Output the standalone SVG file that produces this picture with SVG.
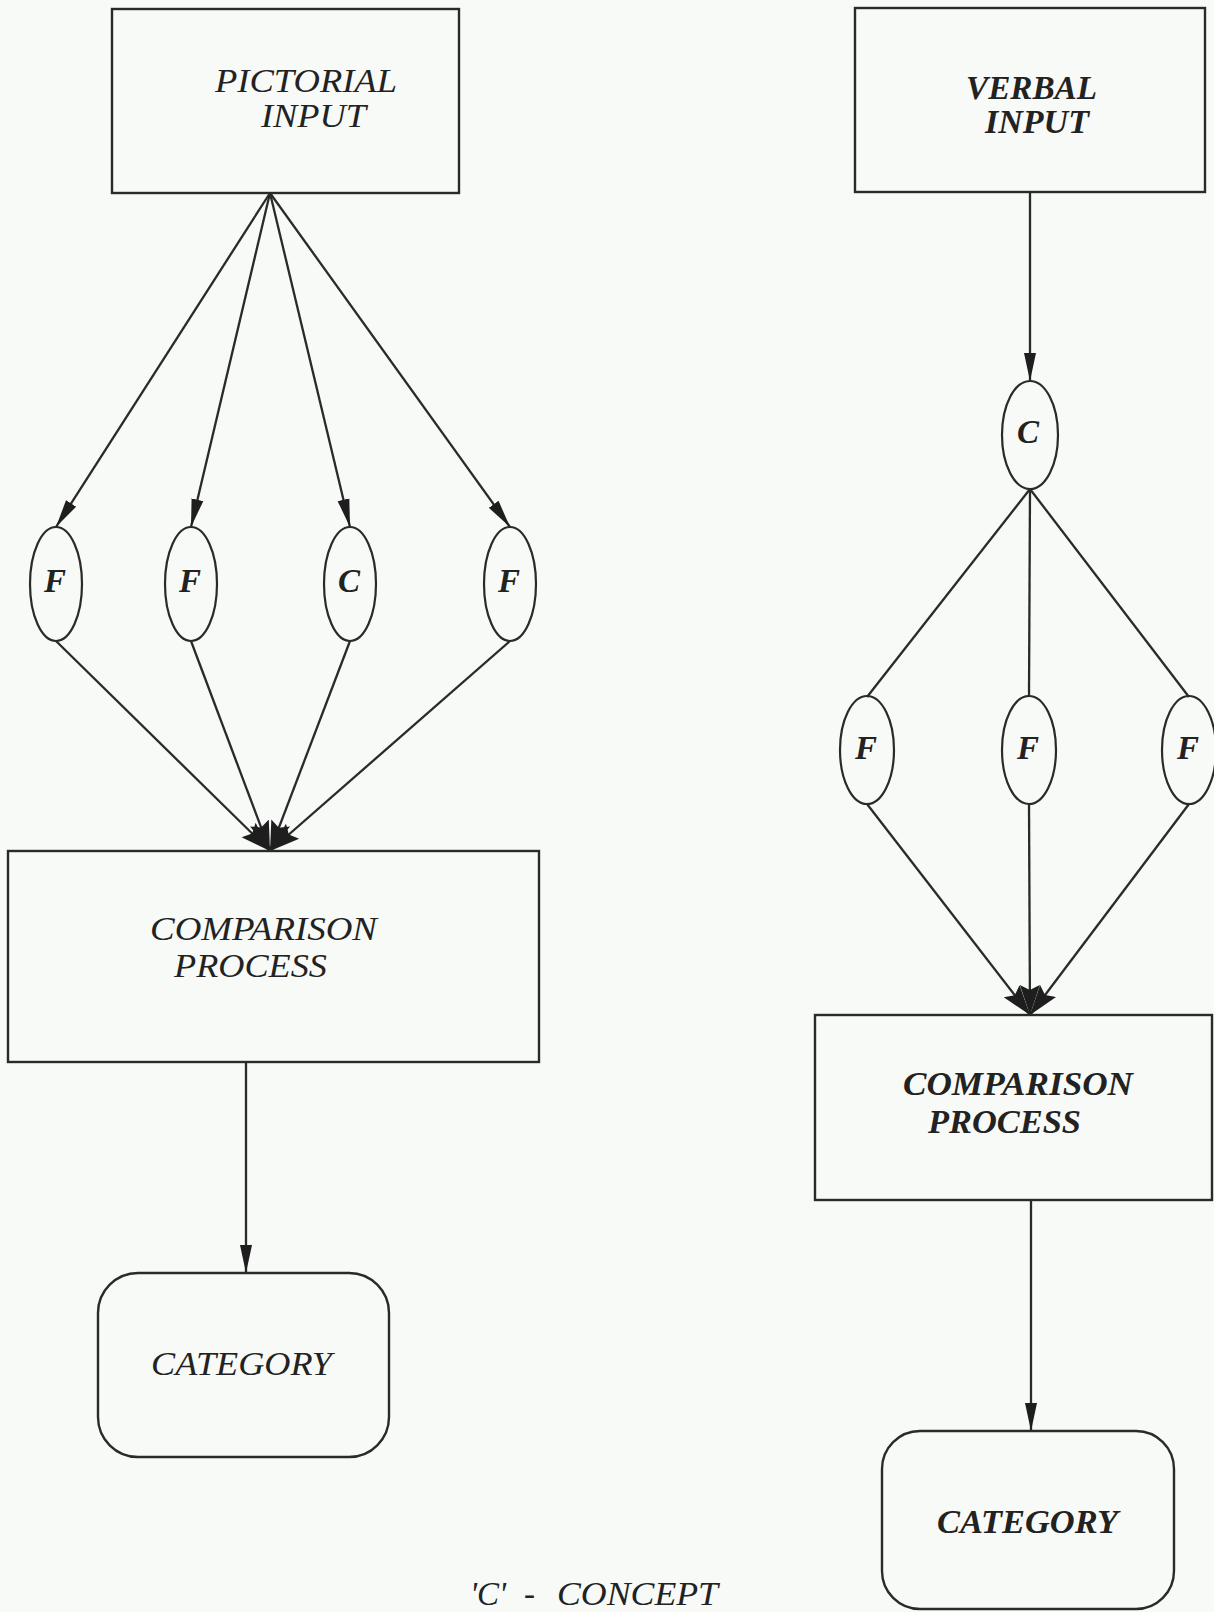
<svg xmlns="http://www.w3.org/2000/svg" width="1214" height="1612" viewBox="0 0 1214 1612">
<defs>
<style>
.bg{fill:#f7faf6}
.box{fill:none;stroke:#2a2a2a;stroke-width:2.4}
.ell{fill:none;stroke:#2a2a2a;stroke-width:2.2}
.ln{fill:none;stroke:#2a2a2a;stroke-width:2.3}
.t{font-family:"Liberation Serif","Times New Roman",serif;font-style:italic;font-size:33px;fill:#222}
.tb{font-family:"Liberation Serif","Times New Roman",serif;font-style:italic;font-weight:bold;font-size:34px;fill:#222}
.lab{font-family:"Liberation Serif","Times New Roman",serif;font-style:italic;font-weight:bold;font-size:33px;fill:#222}
</style>
<marker id="ah" markerUnits="userSpaceOnUse" markerWidth="30" markerHeight="14" refX="28" refY="7" orient="auto">
<path d="M0,1 L28,7 L0,13 Z" fill="#1e1e1e"/>
</marker>
<marker id="ahw" markerUnits="userSpaceOnUse" markerWidth="32" markerHeight="22" refX="30" refY="11" orient="auto">
<path d="M0,1 L30,11 L0,21 L5,11 Z" fill="#1e1e1e"/>
</marker>
</defs>
<rect class="bg" x="0" y="0" width="1214" height="1612"/>

<g id="connectors">
<line class="ln" x1="270" y1="193" x2="56" y2="527" marker-end="url(#ah)"/>
<line class="ln" x1="270" y1="193" x2="191" y2="527" marker-end="url(#ah)"/>
<line class="ln" x1="270" y1="193" x2="350" y2="527" marker-end="url(#ah)"/>
<line class="ln" x1="270" y1="193" x2="510" y2="527" marker-end="url(#ah)"/>
<line class="ln" x1="56" y1="641" x2="270" y2="851" marker-end="url(#ahw)"/>
<line class="ln" x1="191" y1="641" x2="270" y2="851" marker-end="url(#ahw)"/>
<line class="ln" x1="350" y1="641" x2="270" y2="851" marker-end="url(#ahw)"/>
<line class="ln" x1="510" y1="641" x2="270" y2="851" marker-end="url(#ahw)"/>
<line class="ln" x1="246" y1="1062" x2="246" y2="1273" marker-end="url(#ah)"/>

<line class="ln" x1="1030" y1="192" x2="1030" y2="381" marker-end="url(#ah)"/>
<line class="ln" x1="1030" y1="489" x2="867" y2="697"/>
<line class="ln" x1="1030" y1="489" x2="1029" y2="697"/>
<line class="ln" x1="1030" y1="489" x2="1189" y2="697"/>
<line class="ln" x1="867" y1="804" x2="1030" y2="1015" marker-end="url(#ahw)"/>
<line class="ln" x1="1029" y1="804" x2="1030" y2="1015" marker-end="url(#ahw)"/>
<line class="ln" x1="1189" y1="804" x2="1030" y2="1015" marker-end="url(#ahw)"/>
<line class="ln" x1="1031" y1="1200" x2="1031" y2="1431" marker-end="url(#ah)"/>
</g>

<g id="pictorial-input">
<rect class="box" x="112" y="9" width="347" height="184"/>
<text class="t" x="215" y="92" textLength="182" lengthAdjust="spacingAndGlyphs">PICTORIAL</text>
<text class="t" x="261" y="127" textLength="105" lengthAdjust="spacingAndGlyphs">INPUT</text>
</g>

<g id="left-f1"><ellipse class="ell" cx="56" cy="584" rx="26" ry="57"/><text class="lab" x="55" y="592" text-anchor="middle">F</text></g>
<g id="left-f2"><ellipse class="ell" cx="191" cy="584" rx="26" ry="57"/><text class="lab" x="190" y="592" text-anchor="middle">F</text></g>
<g id="left-c"><ellipse class="ell" cx="350" cy="584" rx="26" ry="57"/><text class="lab" x="349" y="592" text-anchor="middle">C</text></g>
<g id="left-f4"><ellipse class="ell" cx="510" cy="584" rx="26" ry="57"/><text class="lab" x="509" y="592" text-anchor="middle">F</text></g>

<g id="left-comparison">
<rect class="box" x="8" y="851" width="531" height="211"/>
<text class="t" x="150" y="940" textLength="227" lengthAdjust="spacingAndGlyphs">COMPARISON</text>
<text class="t" x="174" y="977" textLength="153" lengthAdjust="spacingAndGlyphs">PROCESS</text>
</g>

<g id="left-category">
<rect class="box" x="98" y="1273" width="291" height="184" rx="40" ry="40"/>
<text class="t" x="151" y="1375" textLength="181" lengthAdjust="spacingAndGlyphs">CATEGORY</text>
</g>

<g id="verbal-input">
<rect class="box" x="855" y="8" width="350" height="184"/>
<text class="tb" x="966" y="99" textLength="131" lengthAdjust="spacingAndGlyphs">VERBAL</text>
<text class="tb" x="985" y="133" textLength="104" lengthAdjust="spacingAndGlyphs">INPUT</text>
</g>

<g id="right-c"><ellipse class="ell" cx="1030" cy="435" rx="28" ry="54"/><text class="lab" x="1028" y="443" text-anchor="middle">C</text></g>
<g id="right-f1"><ellipse class="ell" cx="867" cy="750" rx="27" ry="54"/><text class="lab" x="866" y="759" text-anchor="middle">F</text></g>
<g id="right-f2"><ellipse class="ell" cx="1029" cy="750" rx="27" ry="54"/><text class="lab" x="1028" y="759" text-anchor="middle">F</text></g>
<g id="right-f3"><ellipse class="ell" cx="1189" cy="750" rx="27" ry="54"/><text class="lab" x="1188" y="759" text-anchor="middle">F</text></g>

<g id="right-comparison">
<rect class="box" x="815" y="1015" width="397" height="185"/>
<text class="tb" x="903" y="1095" textLength="230" lengthAdjust="spacingAndGlyphs">COMPARISON</text>
<text class="tb" x="928" y="1133" textLength="153" lengthAdjust="spacingAndGlyphs">PROCESS</text>
</g>

<g id="right-category">
<rect class="box" x="882" y="1431" width="292" height="178" rx="38" ry="38"/>
<text class="tb" x="937" y="1533" textLength="181" lengthAdjust="spacingAndGlyphs">CATEGORY</text>
</g>

<g id="legend">
<text class="t" y="1605"><tspan x="470">'C'</tspan><tspan x="524">-</tspan><tspan x="557" textLength="161" lengthAdjust="spacingAndGlyphs">CONCEPT</tspan></text>
</g>
</svg>
